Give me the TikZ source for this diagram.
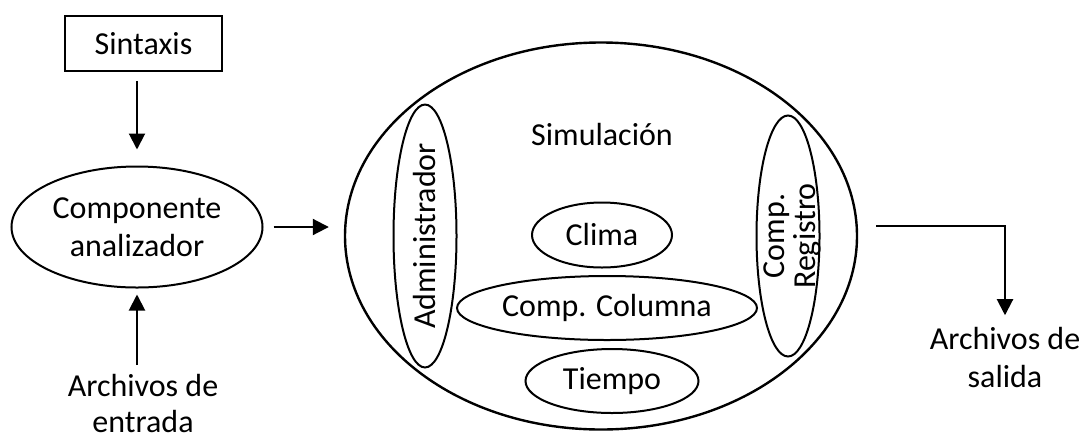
\documentclass[tikz,border=0pt]{standalone}
\usepackage{fontspec}
\setmainfont{Carlito}
\usetikzlibrary{shapes,arrows.meta,positioning,calc}

\begin{document}
\begin{tikzpicture}[x=1pt,y=-1pt,
	every node/.style={font=\fontsize{32}{38}\selectfont},
	caja/.style={draw,line width=1.6pt,minimum width=157pt,minimum height=55pt},
	elip/.style={draw,ellipse,line width=2pt,inner sep=0pt},
	flecha/.style={-{Triangle[length=16pt,width=16pt]},line width=2pt}]
	\useasboundingbox (0,0) rectangle (1081,440);
	% entrada
	\node[caja] (sintaxis) at (143.5,43.5) {Sintaxis};
	\node[elip,minimum width=251pt,minimum height=121pt,align=center] (analizador) at (137,227) {Componente\\analizador};
	\node[align=center,font=\fontsize{32}{36}\selectfont] (entrada) at (143,403) {Archivos de\\entrada};
	\draw[flecha,shorten <=9pt,shorten >=16pt] (analizador.north |- sintaxis.south) -- (analizador.north);
	\draw[flecha,shorten <=5pt,shorten >=6pt] (analizador.south |- entrada.north) -- (analizador.south);
	% simulacion
	\node[elip,line width=2.4pt,minimum width=512pt,minimum height=387pt] (sim) at (601,236) {};
	\node (simtexto) at (602,135) {Simulación};
	\node[elip,rotate=90,minimum width=262pt,minimum height=63pt] (admin) at (425,236) {Administrador};
	\node[elip,minimum width=140pt,minimum height=65pt] (clima) at (602,235) {Clima};
	\node[elip,minimum width=300pt,minimum height=64pt] (columna) at (607,308) {Comp. Columna};
	\node[elip,minimum width=173pt,minimum height=64pt] (tiempo) at (612,381) {Tiempo};
	\node[elip,minimum width=63pt,minimum height=241pt] (registro) at (788,236) {};
	\node[rotate=90,align=center,font=\fontsize{32}{31}\selectfont] (registrotexto) at (792,236) {Comp.\\Registro};
	\draw[flecha,shorten <=10pt,shorten >=15pt] (analizador.east) -- (sim.west |- analizador.east);
	% salida
	\node[align=center] (salida) at (1005,357) {Archivos de\\salida};
	\draw[flecha,shorten >=8pt] ($(sim.east)+(18,-10)$) -| (salida.north);
\end{tikzpicture}
\end{document}
